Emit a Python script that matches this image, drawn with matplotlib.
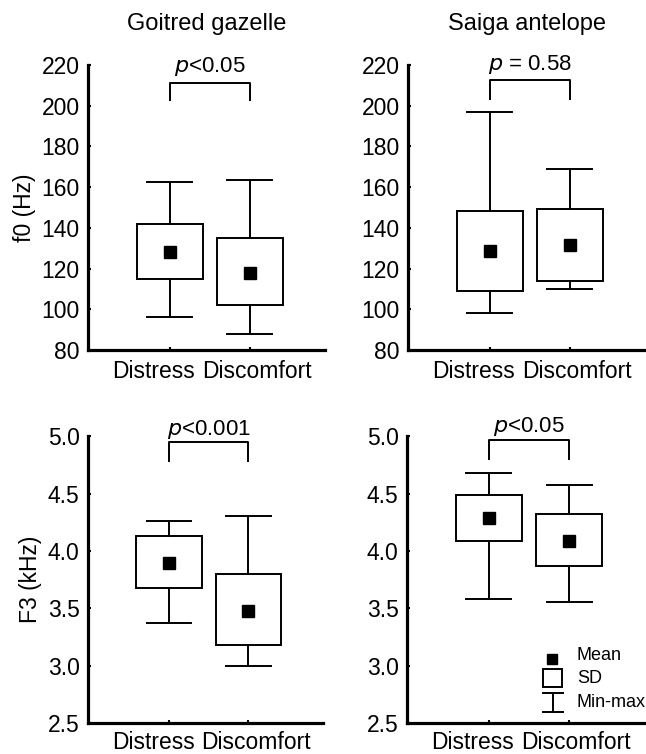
import matplotlib.pyplot as plt
import matplotlib.transforms as mtransforms

plt.rcParams['font.family'] = ['Liberation Sans', 'DejaVu Sans']

# values: mean, SD box (low, high), min, max
groups = ["Distress", "Discomfort"]
titles = ["Goitred gazelle", "Saiga antelope"]

gaz_f0_mean = [128, 118]
gaz_f0_sdlo = [115, 102]
gaz_f0_sdhi = [142, 135]
gaz_f0_min = [96, 88]
gaz_f0_max = [162.5, 163.5]

sai_f0_mean = [128.5, 131.5]
sai_f0_sdlo = [109, 114]
sai_f0_sdhi = [148.5, 149.5]
sai_f0_min = [98, 110]
sai_f0_max = [197, 169]

gaz_f3_mean = [3.90, 3.48]
gaz_f3_sdlo = [3.68, 3.18]
gaz_f3_sdhi = [4.13, 3.80]
gaz_f3_min = [3.37, 3.00]
gaz_f3_max = [4.26, 4.31]

sai_f3_mean = [4.29, 4.09]
sai_f3_sdlo = [4.09, 3.87]
sai_f3_sdhi = [4.49, 4.32]
sai_f3_min = [3.58, 3.56]
sai_f3_max = [4.68, 4.58]

p_texts = ["$p$<0.05", "$p$ = 0.58", "$p$<0.001", "$p$<0.05"]

fig = plt.figure(figsize=(6.46, 7.54), dpi=100)
pos = [[0.1362, 0.5358, 0.367, 0.378],
       [0.6316, 0.5358, 0.367, 0.378],
       [0.1362, 0.0411, 0.364, 0.380],
       [0.6300, 0.0411, 0.368, 0.380]]

panels = [
    (gaz_f0_mean, gaz_f0_sdlo, gaz_f0_sdhi, gaz_f0_min, gaz_f0_max),
    (sai_f0_mean, sai_f0_sdlo, sai_f0_sdhi, sai_f0_min, sai_f0_max),
    (gaz_f3_mean, gaz_f3_sdlo, gaz_f3_sdhi, gaz_f3_min, gaz_f3_max),
    (sai_f3_mean, sai_f3_sdlo, sai_f3_sdhi, sai_f3_min, sai_f3_max),
]
# bracket: top level, foot level, text bottom
brackets = [(211, 203, 213.5), (212.5, 203.5, 214.5), (4.95, 4.79, 4.96), (4.97, 4.80, 4.99)]

hw = 0.41
cw = 0.28
lw = 1.4

for i, (m, lo, hi, mn, mx) in enumerate(panels):
    ax = fig.add_axes(pos[i])
    for j in range(2):
        ax.plot([j, j], [mn[j], lo[j]], color='black', lw=lw)
        ax.plot([j, j], [hi[j], mx[j]], color='black', lw=lw)
        ax.plot([j - cw, j + cw], [mn[j], mn[j]], color='black', lw=lw)
        ax.plot([j - cw, j + cw], [mx[j], mx[j]], color='black', lw=lw)
        ax.add_patch(plt.Rectangle((j - hw, lo[j]), 2 * hw, hi[j] - lo[j],
                                   fill=False, ec='black', lw=lw))
        ax.plot(j, m[j], 's', color='black', ms=8.5)
    top, foot, ty = brackets[i]
    ax.plot([0, 0, 1, 1], [foot, top, top, foot], color='black', lw=lw, clip_on=False)
    ax.text(0.5, ty, p_texts[i], ha='center', va='bottom', fontsize=16, clip_on=False)

    ax.set_xlim(-1.02, 1.94)
    if i < 2:
        ax.set_ylim(80, 220)
        ax.set_yticks(range(80, 221, 20))
        ax.set_title(titles[i], fontsize=17, pad=25)
    else:
        ax.set_ylim(2.5, 5.0)
        ax.set_yticks([2.5, 3.0, 3.5, 4.0, 4.5, 5.0])
        ax.set_yticklabels(["2.5", "3.0", "3.5", "4.0", "4.5", "5.0"])
    ax.set_xticks([0, 1])
    ax.set_xticklabels(groups)
    for sp in ['top', 'right']:
        ax.spines[sp].set_visible(False)
    for sp in ['left', 'bottom']:
        ax.spines[sp].set_linewidth(2.3)
    ax.tick_params(axis='both', direction='in', length=2, width=1.5, labelsize=16.5)
    ax.tick_params(axis='y', pad=6)
    ax.tick_params(axis='x', pad=7 if i < 2 else 5.5)
    xl = ax.get_xticklabels()
    xl[0].set_transform(xl[0].get_transform() + mtransforms.ScaledTranslation(-0.16, 0, fig.dpi_scale_trans))
    xl[1].set_transform(xl[1].get_transform() + mtransforms.ScaledTranslation(0.07, 0, fig.dpi_scale_trans))
    if i == 0:
        ax.set_ylabel("f0 (Hz)", fontsize=16.5, labelpad=4)
    if i == 2:
        ax.set_ylabel("F3 (kHz)", fontsize=16.5, labelpad=4)
    if i == 3:
        tr = ax.transAxes
        ax.plot(0.611, 0.224, 's', color='black', ms=6.5, transform=tr, clip_on=False)
        ax.text(0.714, 0.234, "Mean", fontsize=13, va='center', transform=tr)
        ax.add_patch(plt.Rectangle((0.571, 0.126), 0.08, 0.063, fill=False, ec='black',
                                   lw=lw, transform=tr))
        ax.text(0.714, 0.157, "SD", fontsize=13, va='center', transform=tr)
        ax.plot([0.571, 0.655], [0.105, 0.105], color='black', lw=lw, transform=tr)
        ax.plot([0.571, 0.655], [0.038, 0.038], color='black', lw=lw, transform=tr)
        ax.plot([0.613, 0.613], [0.038, 0.105], color='black', lw=lw, transform=tr)
        ax.text(0.714, 0.073, "Min-max", fontsize=13, va='center', transform=tr)

fig.savefig("out.png", dpi=100)
